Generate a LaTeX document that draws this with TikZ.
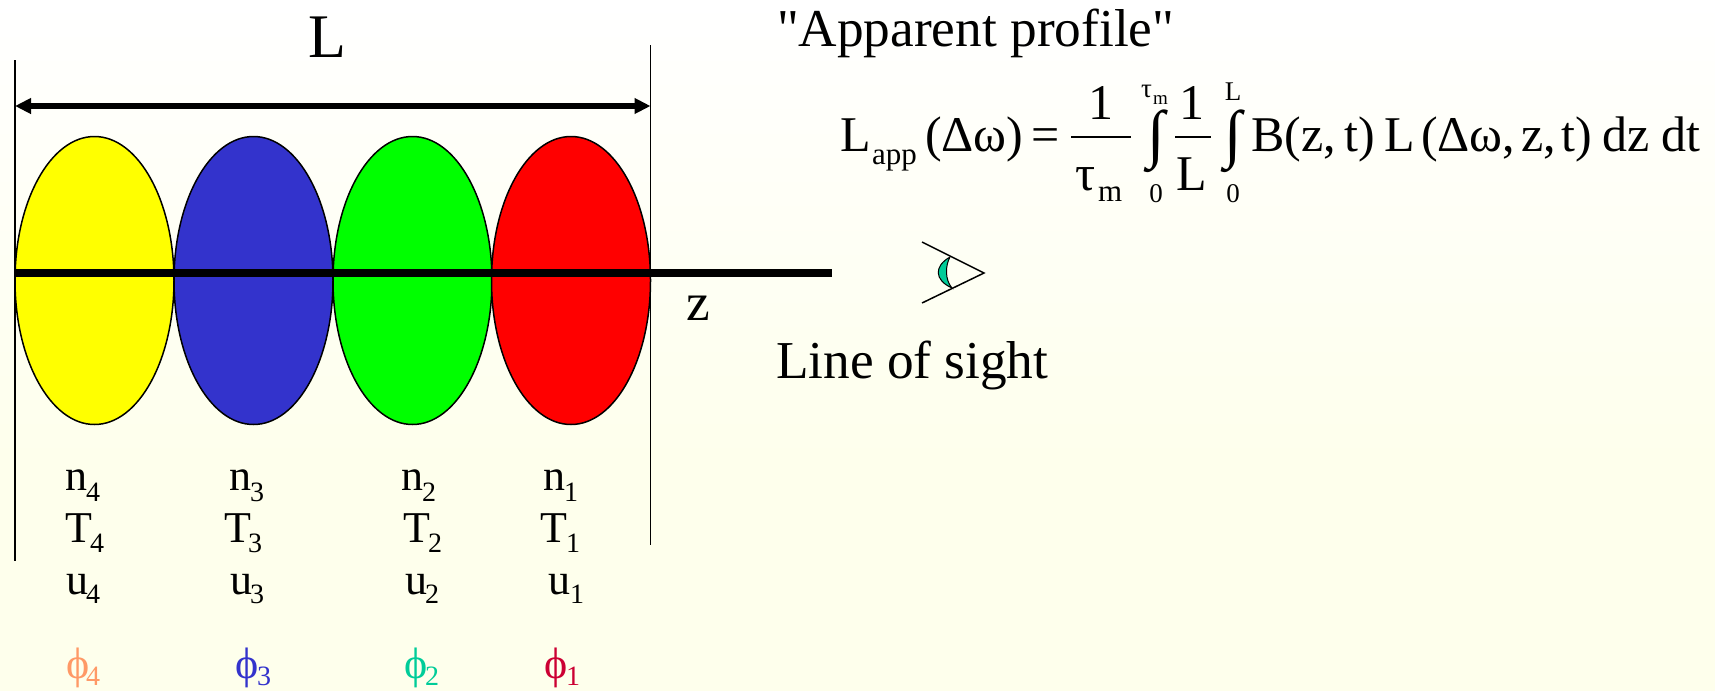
\documentclass[tikz,border=0pt]{standalone}
\usepackage{fontspec}
\setmainfont{Liberation Serif}
\newfontfamily\plainserif{Liberation Serif}
\usetikzlibrary{shapes.geometric,arrows.meta}
\definecolor{bgtop}{HTML}{FFFFFF}
\definecolor{bgbot}{HTML}{FEFFEC}
\definecolor{cyellow}{HTML}{FFFF00}
\definecolor{cblue}{HTML}{3333CC}
\definecolor{cgreen}{HTML}{00FF00}
\definecolor{cred}{HTML}{FF0000}
\definecolor{phiorange}{HTML}{FF9966}
\definecolor{phiteal}{HTML}{00CC99}
\definecolor{phired}{HTML}{CC0033}
\tikzset{
  txt/.style={anchor=base west,inner sep=0pt,outer sep=0pt,text=black},
  ctr/.style={anchor=base,inner sep=0pt,outer sep=0pt,text=black},
  big/.style={font=\fontsize{62}{62}\selectfont},
  large/.style={font=\fontsize{53.3}{53.3}\selectfont},
  formula/.style={font=\fontsize{50}{50}\selectfont},
  cell/.style={font=\fontsize{44}{44}\selectfont},
  subs/.style={font=\fontsize{28}{28}\selectfont},
  fsubs/.style={font=\fontsize{31}{31}\selectfont},
  lims/.style={font=\fontsize{27}{27}\selectfont},
  limsub/.style={font=\fontsize{19}{19}\selectfont},
  integ/.style={font=\fontsize{64}{64}\selectfont},
  blob/.style={draw=black,line width=1.5pt,ellipse,inner sep=0pt,minimum width=159pt,minimum height=288pt},
  guide/.style={draw=black,line width=1.5pt},
  span/.style={draw=black,line width=6pt,{Triangle[length=16pt,width=15pt]}-{Triangle[length=16pt,width=15pt]},shorten >=0pt,shorten <=0pt},
  sight/.style={draw=black,line width=8pt},
  eyeline/.style={draw=black,line width=1.5pt},
  bar/.style={draw=black,line width=1.8pt},
}
\begin{document}
\begin{tikzpicture}[x=1pt,y=-1pt]
\useasboundingbox (0,0) rectangle (1715,691);
\fill[top color=bgtop,bottom color=bgbot] (0,0) rectangle (1715,460);
\fill[bgbot] (0,460) rectangle (1715,691);

% extent guides
\coordinate (gl1) at (15,60);
\coordinate (gl2) at (15,561);
\coordinate (gr1) at (650.5,45);
\coordinate (gr2) at (650.5,545);
\draw[guide] (gl1) -- (gl2);
\draw[guide] (gr1) -- (gr2);
\coordinate (al) at (15,106);
\coordinate (ar) at (650.5,106);
\draw[span] (al) -- (ar);
\node[txt,big] (Ltop) at (308,57) {L};

% cells
\node[blob,fill=cyellow] (e4) at (94.5,280.5) {};
\node[blob,fill=cblue]   (e3) at (253.5,280.5) {};
\node[blob,fill=cgreen]  (e2) at (412.5,280.5) {};
\node[blob,fill=cred]    (e1) at (571,280.5) {};

% line of sight
\coordinate (losend) at (832,272.5);
\draw[sight] (e4.west) ++(0,-8) coordinate (losstart) -- (losend);
\node[txt,large] (zlab) at (686,320) {z};
\node[txt,large] (los) at (776,378) {Line of sight};

% eye
\coordinate (eyetop) at (922,242);
\coordinate (eyeapex) at (984,273);
\coordinate (eyebot) at (922,303);
\coordinate (lenstop) at (950,257);
\coordinate (lensbot) at (952,288);
\fill[phiteal,draw=black,line width=1pt] (lenstop) .. controls (934,266) and (934,280) .. (lensbot)
   .. controls (945,280) and (945,266) .. (lenstop);
\draw[eyeline] (eyetop) -- (eyeapex) -- (eyebot);

% title
\node[txt,large,font=\plainserif\fontsize{53.3}{53.3}\selectfont] (title) at (777,46) {"Apparent profile"};

% formula
\node[txt,formula] (f1) at (840,151) {L};
\node[txt,fsubs] (f2) at (872,164) {app};
\node[txt,formula] (f3) at (925,151) {(Δω)};
\node[txt,formula] (f4) at (1031,151) {=};
\coordinate (b1l) at (1071,137);
\coordinate (b1r) at (1131,137);
\draw[bar] (b1l) -- (b1r);
\node[ctr,formula] (f5) at (1101,119) {1};
\node[txt,formula] (f6) at (1075,190) {τ};
\node[txt,fsubs] (f7) at (1098,201) {m};
\node[txt,lims] (f8) at (1141,97) {τ};
\node[txt,limsub] (f9) at (1153,104) {m};
\node[ctr,integ] (f10) at (1156,155) {∫};
\node[ctr,lims] (f11) at (1156,202) {0};
\coordinate (b2l) at (1175,137);
\coordinate (b2r) at (1211,137);
\draw[bar] (b2l) -- (b2r);
\node[ctr,formula] (f12) at (1192,119) {1};
\node[ctr,formula] (f13) at (1192,190) {L};
\node[ctr,lims] (f14) at (1233,100) {L};
\node[ctr,integ] (f15) at (1233,155) {∫};
\node[ctr,lims] (f16) at (1233,202) {0};
\node[txt,formula] (f17) at (1251,151) {B(z,\hspace{9pt}t)};
\node[txt,formula] (f18) at (1384,151) {L};
\node[txt,formula] (f19) at (1421,151) {(Δω,\hspace{6pt}z,\hspace{6pt}t)};
\node[txt,formula] (f20) at (1602,151) {dz dt};

% n row
\node[txt,cell] (n4) at (65,490) {n};  \node[txt,subs] (n4s) at (86,501) {4};
\node[txt,cell] (n3) at (229,490) {n}; \node[txt,subs] (n3s) at (250,501) {3};
\node[txt,cell] (n2) at (401,490) {n}; \node[txt,subs] (n2s) at (422,501) {2};
\node[txt,cell] (n1) at (543,490) {n}; \node[txt,subs] (n1s) at (564,501) {1};
% T row
\node[txt,cell] (T4) at (65,542) {T};  \node[txt,subs] (T4s) at (90,552) {4};
\node[txt,cell] (T3) at (224,542) {T}; \node[txt,subs] (T3s) at (248,552) {3};
\node[txt,cell] (T2) at (403,542) {T}; \node[txt,subs] (T2s) at (428,552) {2};
\node[txt,cell] (T1) at (540,542) {T}; \node[txt,subs] (T1s) at (566,552) {1};
% u row
\node[txt,cell] (u4) at (66,594) {u};  \node[txt,subs] (u4s) at (86,603) {4};
\node[txt,cell] (u3) at (230,594) {u}; \node[txt,subs] (u3s) at (250,603) {3};
\node[txt,cell] (u2) at (405,594) {u}; \node[txt,subs] (u2s) at (425,603) {2};
\node[txt,cell] (u1) at (548,594) {u}; \node[txt,subs] (u1s) at (570,603) {1};
% phi row
\node[txt,cell,text=phiorange] (p4) at (66,678) {ϕ};  \node[txt,subs,text=phiorange] (p4s) at (86,685) {4};
\node[txt,cell,text=cblue] (p3) at (235,678) {ϕ}; \node[txt,subs,text=cblue] (p3s) at (257,685) {3};
\node[txt,cell,text=phiteal] (p2) at (404,678) {ϕ}; \node[txt,subs,text=phiteal] (p2s) at (425,685) {2};
\node[txt,cell,text=phired] (p1) at (544,678) {ϕ}; \node[txt,subs,text=phired] (p1s) at (566,685) {1};
\end{tikzpicture}
\end{document}
